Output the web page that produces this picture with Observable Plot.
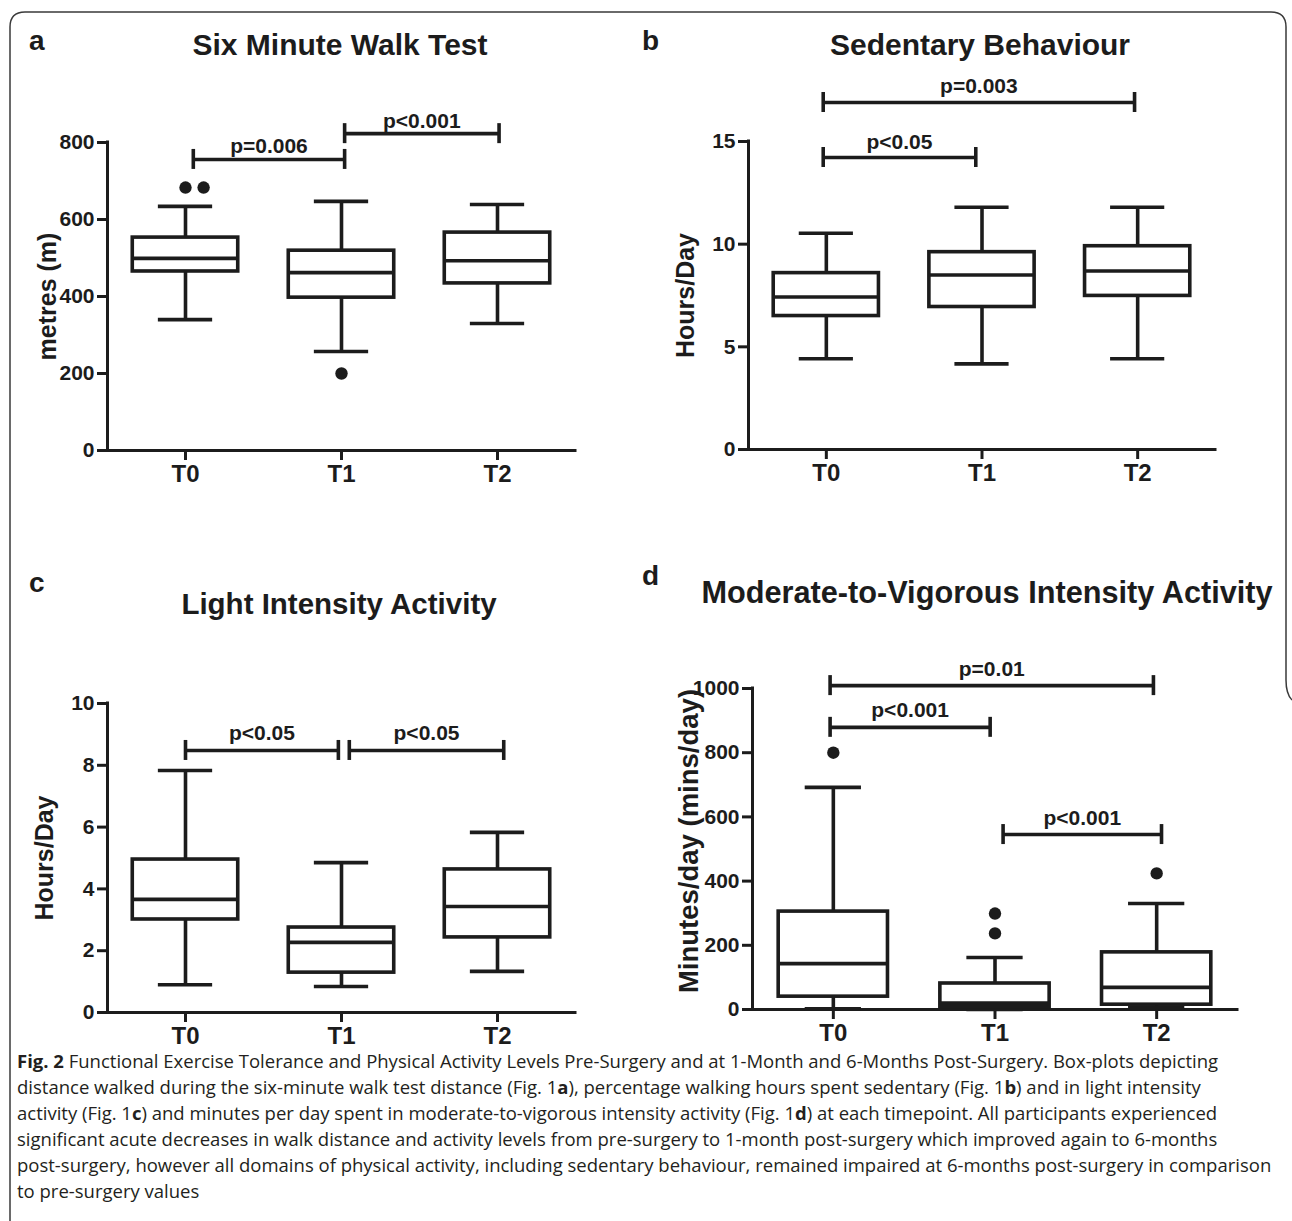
<!DOCTYPE html>
<html>
<head>
<meta charset="utf-8">
<script src="https://cdn.jsdelivr.net/npm/d3@7"></script>
<script src="https://cdn.jsdelivr.net/npm/@observablehq/plot@0.6"></script>
<style>
html, body { margin: 0; padding: 0; background: #fff; }
#page { position: relative; width: 1292px; height: 1221px; overflow: hidden; background: #fff; }
.panel { position: absolute; }
#overlay { position: absolute; left: 0; top: 0; pointer-events: none; }
#caption { position: absolute; left: 17px; top: 0; font-family: "Open Sans", sans-serif; color: #231f20; }
#caption div { white-space: nowrap; }
</style>
</head>
<body>
<div id="page"></div>
<script>
// ---------- data ----------
const timeLabels = ["T0", "T1", "T2"];

// (a) Six Minute Walk Test, metres
const walkMin    = [340, 257, 330];
const walkQ1     = [465, 397, 434];
const walkMedian = [499, 462, 493];
const walkQ3     = [553, 519, 566];
const walkMax    = [634, 647, 639];
const walkOutliers = [[0, 683], [0, 683], [1, 200]];
const walkTicks = [0, 200, 400, 600, 800];
const walkSig = [[0.05, 1.02, 756, "p=0.006"], [1.02, 2.01, 823, "p<0.001"]];

// (b) Sedentary Behaviour, hours/day
const sedMin    = [4.42, 4.17, 4.42];
const sedQ1     = [6.5, 6.94, 7.48];
const sedMedian = [7.43, 8.5, 8.69];
const sedQ3     = [8.59, 9.61, 9.9];
const sedMax    = [10.53, 11.8, 11.8];
const sedOutliers = [];
const sedTicks = [0, 5, 10, 15];
const sedSig = [[-0.02, 0.96, 14.22, "p<0.05"], [-0.02, 1.98, 16.9, "p=0.003"]];

// (c) Light Intensity Activity, hours/day
const lightMin    = [0.9, 0.84, 1.33];
const lightQ1     = [3.01, 1.29, 2.43];
const lightMedian = [3.66, 2.27, 3.43];
const lightQ3     = [4.95, 2.75, 4.63];
const lightMax    = [7.83, 4.85, 5.83];
const lightOutliers = [];
const lightTicks = [0, 2, 4, 6, 8, 10];
const lightSig = [[0.0, 0.98, 8.48, "p<0.05"], [1.05, 2.04, 8.48, "p<0.05"]];

// (d) Moderate-to-Vigorous Intensity Activity, minutes/day
const mvpaMin    = [2, 0, 5];
const mvpaQ1     = [40, 7, 15];
const mvpaMedian = [143, 20, 69];
const mvpaQ3     = [305, 81, 178];
const mvpaMax    = [692, 162, 330];
const mvpaOutliers = [[0, 800], [1, 299], [1, 237], [2, 424]];
const mvpaTicks = [0, 200, 400, 600, 800, 1000];
const mvpaSig = [[-0.02, 1.98, 1009, "p=0.01"], [-0.02, 0.97, 879, "p<0.001"], [1.05, 2.03, 545, "p<0.001"]];

const panelTitles = ["Six Minute Walk Test", "Sedentary Behaviour", "Light Intensity Activity", "Moderate-to-Vigorous Intensity Activity"];
const panelLetters = ["a", "b", "c", "d"];
const yLabels = ["metres (m)", "Hours/Day", "Hours/Day", "Minutes/day (mins/day)"];

// ---------- drawing ----------
const ink = "#1c1c1c";
const font = "'Liberation Sans', Arial, sans-serif";
const page = document.getElementById("page");

function makePanel(data, layout) {
  const boxes = timeLabels.map((t, i) => ({
    i, lo: data.min[i], q1: data.q1[i], med: data.med[i], q3: data.q3[i], hi: data.max[i]
  }));
  const seen = {};
  const outs = data.outliers.map(([t, v]) => {
    const key = t + ":" + v;
    const k = seen[key] = (seen[key] ?? -1) + 1;
    return {x: t + k * 0.116, v};
  });
  const sig = data.sig.map(([x1, x2, y, label]) => ({x1, x2, y, label}));
  const yMax = data.ticks[data.ticks.length - 1];
  const hb = 0.338, hc = 0.174;
  const lw = 3.6;

  const chart = Plot.plot({
    width: layout.width,
    height: layout.height,
    marginLeft: layout.m[0], marginRight: layout.m[1], marginTop: layout.m[2], marginBottom: layout.m[3],
    x: {domain: [-0.5, 2.5], label: null},
    y: {domain: [0, yMax], label: null},
    style: {background: "transparent", color: ink, fontFamily: font, overflow: "visible"},
    marks: [
      Plot.ruleY([0], {x1: -0.5, x2: 2.5, stroke: ink, strokeWidth: 3, strokeLinecap: "square"}),
      Plot.ruleX([-0.5], {y1: 0, y2: yMax, stroke: ink, strokeWidth: 3, strokeLinecap: "square"}),
      Plot.axisY({ticks: data.ticks, tickSize: 10, tickPadding: 3, strokeWidth: 3, fontSize: 21, fontWeight: "bold", label: null, tickFormat: d3.format("d"), fill: ink}),
      Plot.axisX({ticks: [0, 1, 2], tickFormat: i => timeLabels[i], tickSize: 10, tickPadding: 4, strokeWidth: 3, fontSize: 24, fontWeight: "bold", label: null, fill: ink}),
      Plot.ruleX(boxes, {x: "i", y1: "q3", y2: "hi", stroke: ink, strokeWidth: lw}),
      Plot.ruleX(boxes, {x: "i", y1: "lo", y2: "q1", stroke: ink, strokeWidth: lw}),
      Plot.ruleY(boxes, {y: "hi", x1: d => d.i - hc, x2: d => d.i + hc, stroke: ink, strokeWidth: lw}),
      Plot.ruleY(boxes, {y: "lo", x1: d => d.i - hc, x2: d => d.i + hc, stroke: ink, strokeWidth: lw}),
      Plot.rect(boxes, {x1: d => d.i - hb, x2: d => d.i + hb, y1: "q1", y2: "q3", fill: "white", stroke: ink, strokeWidth: lw}),
      Plot.ruleY(boxes, {y: "med", x1: d => d.i - hb, x2: d => d.i + hb, stroke: ink, strokeWidth: lw}),
      Plot.dot(outs, {x: "x", y: "v", r: 6.2, fill: ink, stroke: null}),
      Plot.ruleY(sig, {y: "y", x1: "x1", x2: "x2", stroke: ink, strokeWidth: lw}),
      Plot.ruleX(sig, {x: "x1", y1: "y", y2: "y", insetTop: -10, insetBottom: -10, stroke: ink, strokeWidth: lw}),
      Plot.ruleX(sig, {x: "x2", y1: "y", y2: "y", insetTop: -10, insetBottom: -10, stroke: ink, strokeWidth: lw}),
      Plot.text(sig, {x: d => (d.x1 + d.x2) / 2, y: "y", text: "label", lineAnchor: "bottom", dy: layout.sigDy, fontSize: 21, fontWeight: "bold", fill: ink}),
      Plot.text([data.yLabel], {frameAnchor: "left", text: d => d, rotate: -90, textAnchor: "middle", lineAnchor: "bottom", dx: layout.labelDx, dy: layout.labelDy, fontSize: layout.labelSize, fontWeight: "bold", fill: ink})
    ]
  });
  const wrap = document.createElement("div");
  wrap.className = "panel";
  wrap.style.left = layout.left + "px";
  wrap.style.top = layout.top + "px";
  wrap.appendChild(chart);
  page.appendChild(wrap);
}

// overlay: frame, letters, titles
const overlay = d3.select(page).append("svg").attr("id", "overlay").attr("width", 1292).attr("height", 1221);
overlay.append("path")
  .attr("d", "M10,1221 L10,27 Q10,12 25,12 L1271,12 Q1286,12 1286,27 L1286,680 Q1286,694 1292,700")
  .attr("fill", "none").attr("stroke", "#3a3a3a").attr("stroke-width", 1.5);
const letterPos = [[29, 50], [642, 50], [29, 592], [642, 585]];
panelLetters.forEach((l, i) => {
  overlay.append("text").attr("x", letterPos[i][0]).attr("y", letterPos[i][1])
    .attr("font-family", font).attr("font-weight", "bold").attr("font-size", 28).attr("fill", ink).text(l);
});
const titlePos = [[340, 55, 30], [980, 55, 30], [339, 614, 29.5], [987, 603, 30.7]];
panelTitles.forEach((t, i) => {
  overlay.append("text").attr("x", titlePos[i][0]).attr("y", titlePos[i][1])
    .attr("text-anchor", "middle").attr("font-family", font).attr("font-weight", "bold")
    .attr("font-size", titlePos[i][2]).attr("fill", ink).text(t);
});

makePanel({min: walkMin, q1: walkQ1, med: walkMedian, q3: walkQ3, max: walkMax, outliers: walkOutliers, ticks: walkTicks, sig: walkSig, yLabel: yLabels[0]},
  {left: 0, top: 0, width: 640, height: 520, m: [107, 65, 142, 70], labelDx: -52, labelDy: 0, labelSize: 25, sigDy: -6});
makePanel({min: sedMin, q1: sedQ1, med: sedMedian, q3: sedQ3, max: sedMax, outliers: sedOutliers, ticks: sedTicks, sig: sedSig, yLabel: yLabels[1]},
  {left: 640, top: 0, width: 652, height: 520, m: [108, 77, 141, 71], labelDx: -55, labelDy: 0, labelSize: 25, sigDy: -9});
makePanel({min: lightMin, q1: lightQ1, med: lightMedian, q3: lightQ3, max: lightMax, outliers: lightOutliers, ticks: lightTicks, sig: lightSig, yLabel: yLabels[2]},
  {left: 0, top: 560, width: 640, height: 500, m: [107, 65, 143, 48], labelDx: -55, labelDy: 0, labelSize: 25, sigDy: -10});
makePanel({min: mvpaMin, q1: mvpaQ1, med: mvpaMedian, q3: mvpaQ3, max: mvpaMax, outliers: mvpaOutliers, ticks: mvpaTicks, sig: mvpaSig, yLabel: yLabels[3]},
  {left: 640, top: 560, width: 652, height: 500, m: [112, 55, 128, 51], labelDx: -55, labelDy: -8, labelSize: 27.5, sigDy: -10});

// caption
const captionLines = [
  "<b>Fig. 2</b> Functional Exercise Tolerance and Physical Activity Levels Pre-Surgery and at 1-Month and 6-Months Post-Surgery. Box-plots depicting",
  "distance walked during the six-minute walk test distance (Fig. 1<b>a</b>), percentage walking hours spent sedentary (Fig. 1<b>b</b>) and in light intensity",
  "activity (Fig. 1<b>c</b>) and minutes per day spent in moderate-to-vigorous intensity activity (Fig. 1<b>d</b>) at each timepoint. All participants experienced",
  "significant acute decreases in walk distance and activity levels from pre-surgery to 1-month post-surgery which improved again to 6-months",
  "post-surgery, however all domains of physical activity, including sedentary behaviour, remained impaired at 6-months post-surgery in comparison",
  "to pre-surgery values"
];
const cap = document.createElement("div");
cap.id = "caption";
captionLines.forEach(l => { const d = document.createElement("div"); d.innerHTML = l; cap.appendChild(d); });
page.appendChild(cap);
let fs = 18;
cap.style.fontSize = fs + "px";
const w5 = cap.children[4].getBoundingClientRect().width;
fs = fs * 1255 / w5;
const lh = 26;
cap.style.fontSize = fs + "px";
cap.style.lineHeight = lh + "px";
const asc = 1.069 * fs, content = 1.362 * fs;
cap.style.top = (1068 - (asc + (lh - content) / 2)) + "px";
</script>
</body>
</html>
